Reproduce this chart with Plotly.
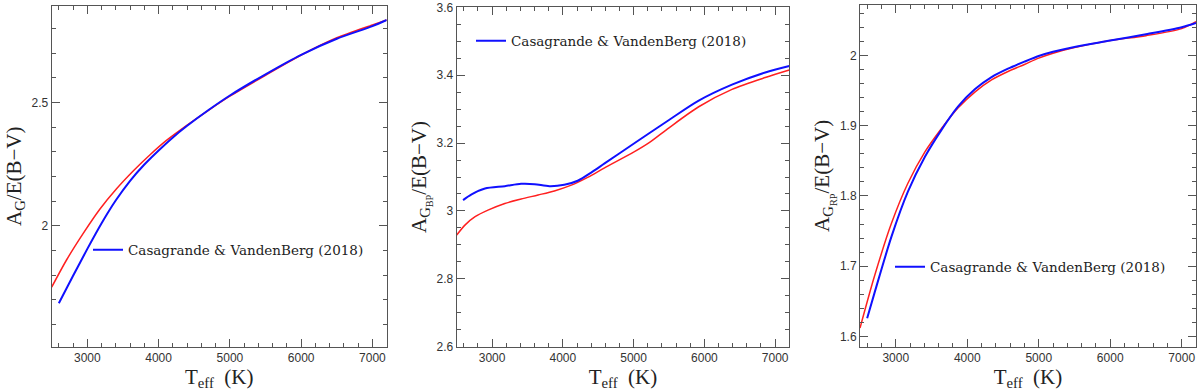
import plotly.graph_objects as go

# Panel 1: A_G / E(B-V)
g_teff_red = [2500, 2710, 2940, 3180, 3410, 3650, 3880, 4110, 4400, 4700, 5000, 5500, 6000, 6500, 7000, 7200]
g_red = [1.751, 1.862, 1.968, 2.069, 2.150, 2.224, 2.288, 2.346, 2.408, 2.468, 2.525, 2.610, 2.692, 2.762, 2.814, 2.834]
g_teff_blue = [2600, 2800, 3000, 3200, 3400, 3600, 3800, 4000, 4200, 4400, 4700, 5000, 5500, 6000, 6500, 7000, 7200]
g_blue = [1.686, 1.797, 1.906, 2.010, 2.103, 2.182, 2.248, 2.305, 2.358, 2.405, 2.469, 2.528, 2.614, 2.693, 2.758, 2.809, 2.834]

# Panel 2: A_G_BP / E(B-V)
bp_teff_red = [2500, 2620, 2760, 2950, 3180, 3410, 3650, 3880, 4120, 4350, 4590, 5000, 5220, 5500, 5920, 6390, 6860, 7200]
bp_red = [2.929, 2.959, 2.983, 3.003, 3.022, 3.035, 3.047, 3.059, 3.076, 3.099, 3.127, 3.173, 3.201, 3.245, 3.307, 3.358, 3.393, 3.415]
bp_teff_blue = [2590, 2710, 2900, 3180, 3410, 3600, 3810, 4020, 4210, 4400, 4590, 5000, 5220, 5500, 5920, 6390, 6860, 7200]
bp_blue = [3.032, 3.049, 3.066, 3.073, 3.080, 3.079, 3.073, 3.077, 3.089, 3.113, 3.140, 3.198, 3.229, 3.268, 3.325, 3.372, 3.408, 3.427]

# Panel 3: A_G_RP / E(B-V)
rp_teff_red = [2500, 2700, 2940, 3170, 3410, 3640, 3870, 4110, 4340, 4570, 4800, 5000, 5200, 5500, 6000, 6500, 7000, 7200]
rp_red = [1.612, 1.685, 1.761, 1.818, 1.863, 1.896, 1.925, 1.948, 1.965, 1.977, 1.987, 1.996, 2.003, 2.011, 2.021, 2.028, 2.038, 2.048]
rp_teff_blue = [2600, 2700, 2940, 3170, 3410, 3640, 3870, 4110, 4340, 4570, 4800, 5000, 5200, 5500, 6000, 6500, 7000, 7200]
rp_blue = [1.626, 1.661, 1.742, 1.806, 1.856, 1.894, 1.927, 1.952, 1.969, 1.981, 1.991, 1.999, 2.005, 2.012, 2.021, 2.030, 2.040, 2.046]

legend_label = "Casagrande & VandenBerg (2018)"

W, H = 1200, 391
RED = "#ff2020"
BLUE = "#1010ff"
AXC = "#555555"


def xdom(a, b):
    return [a / W, b / W]


def ydom(top, bottom):
    return [1 - bottom / H, 1 - top / H]


panels = [
    dict(tr=g_teff_red, r=g_red, tb=g_teff_blue, b=g_blue, x=(51.7, 386.7), y=(5.7, 346.7),
         yr=[1.5095, 2.892], ydt=0.5, ymin=0.1, title="A<sub>G</sub>/E(B\u2212V)",
         leg=(88, 250)),
    dict(tr=bp_teff_red, r=bp_red, tb=bp_teff_blue, b=bp_blue, x=(456.7, 789.3), y=(7.3, 346.7),
         yr=[2.6, 3.6], ydt=0.2, ymin=0.05, title="A<sub>G<sub>BP</sub></sub>/E(B\u2212V)",
         leg=(471, 41)),
    dict(tr=rp_teff_red, r=rp_red, tb=rp_teff_blue, b=rp_blue, x=(860, 1196), y=(5, 346.7),
         yr=[1.5855, 2.0716], ydt=0.1, ymin=0.02, title="A<sub>G<sub>RP</sub></sub>/E(B\u2212V)",
         leg=(890, 267)),
]

fig = go.Figure()
layout = dict(
    width=W, height=H, margin=dict(l=0, r=0, t=0, b=0),
    paper_bgcolor="white", plot_bgcolor="white", showlegend=True,
)

for i, p in enumerate(panels, start=1):
    sfx = "" if i == 1 else str(i)
    legname = "legend" if i == 1 else f"legend{i}"
    fig.add_trace(go.Scatter(
        x=p["tr"], y=p["r"], mode="lines",
        line=dict(color=RED, width=1.5, shape="spline", smoothing=0.8),
        xaxis=f"x{sfx}", yaxis=f"y{sfx}", showlegend=False, hoverinfo="skip"))
    fig.add_trace(go.Scatter(
        x=p["tb"], y=p["b"], mode="lines",
        line=dict(color=BLUE, width=2, shape="spline", smoothing=0.8),
        xaxis=f"x{sfx}", yaxis=f"y{sfx}", name=legend_label, legend=legname))

    axis_common = dict(
        showline=True, linecolor=AXC, linewidth=1, mirror="allticks",
        ticks="inside", tickcolor=AXC, ticklen=8, tickwidth=1,
        showgrid=False, zeroline=False, automargin=False,
        tickfont=dict(family="Liberation Sans", size=12, color="#333333"),
    )
    layout[f"xaxis{sfx}"] = dict(
        axis_common, domain=xdom(*p["x"]), range=[2500, 7200], anchor=f"y{sfx}",
        tickmode="linear", tick0=3000, dtick=1000,
        minor=dict(dtick=200, tick0=2600, ticks="inside", ticklen=4, tickcolor=AXC, showgrid=False),
        title=dict(text="T<sub>eff</sub>  (K)", standoff=3,
                   font=dict(family="Liberation Serif", size=21, color="#222222")),
    )
    layout[f"yaxis{sfx}"] = dict(
        axis_common, domain=ydom(*p["y"]), range=p["yr"], anchor=f"x{sfx}",
        tickmode="linear", tick0=0, dtick=p["ydt"],
        minor=dict(dtick=p["ymin"], tick0=0, ticks="inside", ticklen=4, tickcolor=AXC, showgrid=False),
        title=dict(text=p["title"], standoff=4,
                   font=dict(family="Liberation Serif", size=21, color="#222222")),
    )
    layout[legname] = dict(
        x=p["leg"][0] / W, y=1 - p["leg"][1] / H, xanchor="left", yanchor="middle",
        bgcolor="rgba(0,0,0,0)", borderwidth=0, itemwidth=30,
        font=dict(family="DejaVu Serif", size=13.5, color="#222222"),
    )

fig.update_layout(**layout)
fig.write_html("out.html", config={"displayModeBar": False},
               post_script="document.body.style.margin='0';")
